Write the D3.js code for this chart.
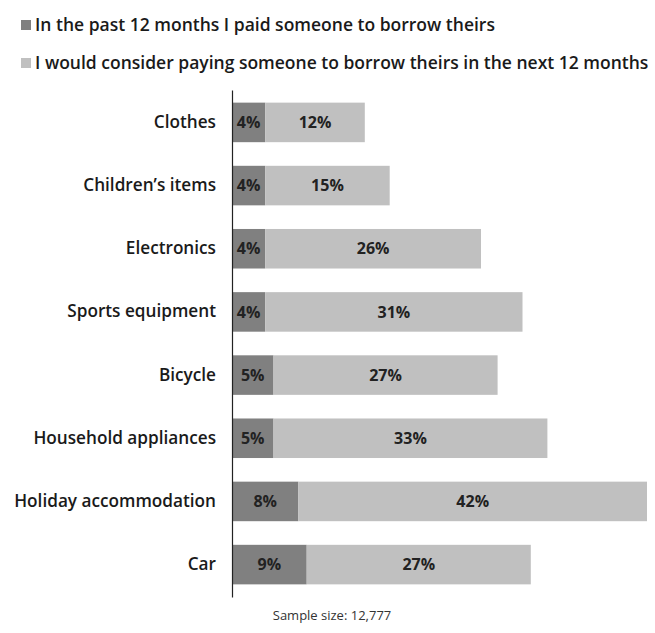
<!DOCTYPE html>
<meta charset="utf-8">
<script src="https://d3js.org/d3.v7.min.js"></script>
<style>
  body { margin: 0; background: #fff; }
  svg text { font-family: "Open Sans", sans-serif; fill: #1a1a1a; }
  .cat { font-size: 17.2px; font-weight: 600; }
  .legend { font-size: 17.5px; font-weight: 600; }
  .val { font-size: 16px; font-weight: 700; fill: #222; }
  .note { font-size: 13px; fill: #333; }
</style>
<body>
<div id="chart"></div>
<script>
  const categories = ["Clothes", "Children\u2019s items", "Electronics", "Sports equipment",
                      "Bicycle", "Household appliances", "Holiday accommodation", "Car"];
  const paid     = [4, 4, 4, 4, 5, 5, 8, 9];
  const consider = [12, 15, 26, 31, 27, 33, 42, 27];
  const seriesNames = ["In the past 12 months I paid someone to borrow theirs",
                       "I would consider paying someone to borrow theirs in the next 12 months"];
  const colors = ["#808080", "#c0c0c0"];

  const width = 655, height = 633;

  const svg = d3.select("#chart").append("svg")
    .attr("width", width)
    .attr("height", height);

  const rows = categories.map((c, i) => ({ cat: c, paid: paid[i], consider: consider[i] }));
  const stack = d3.stack().keys(["paid", "consider"])(rows);

  const x = d3.scaleLinear().domain([0, 50]).range([232, 647]);
  const y = d3.scaleBand().domain(categories).range([90, 597])
    .paddingInner(0.374).paddingOuter(0.2);

  // legend
  const lg = svg.append("g");
  seriesNames.forEach((name, i) => {
    const yy = 31 + i * 38;
    lg.append("rect").attr("x", 21).attr("y", yy - 11).attr("width", 10).attr("height", 10)
      .attr("fill", colors[i]);
    lg.append("text").attr("class", "legend").attr("x", 35).attr("y", yy).text(name);
  });

  // bars
  const layer = svg.selectAll("g.layer").data(stack).enter().append("g")
    .attr("class", "layer").attr("fill", (d, i) => colors[i]);

  layer.selectAll("rect").data(d => d).enter().append("rect")
    .attr("x", d => x(d[0]))
    .attr("y", d => y(d.data.cat))
    .attr("width", d => x(d[1]) - x(d[0]))
    .attr("height", y.bandwidth());

  layer.selectAll("text").data(d => d).enter().append("text")
    .attr("class", "val")
    .attr("x", d => (x(d[0]) + x(d[1])) / 2)
    .attr("y", d => y(d.data.cat) + y.bandwidth() / 2)
    .attr("dy", "0.35em")
    .attr("text-anchor", "middle")
    .text(d => (d[1] - d[0]) + "%");

  // axis
  const yAxis = svg.append("g").attr("transform", `translate(${x(0)},0)`)
    .call(d3.axisLeft(y).tickSize(0).tickPadding(16));
  yAxis.select(".domain").attr("stroke", "#222").attr("stroke-width", 1.2);
  yAxis.selectAll(".tick text").attr("class", "cat").attr("font-family", null)
    .attr("font-size", null).attr("fill", null);

  svg.append("text").attr("class", "note")
    .attr("x", 332).attr("y", 620).attr("text-anchor", "middle")
    .text("Sample size: 12,777");
</script>
</body>
